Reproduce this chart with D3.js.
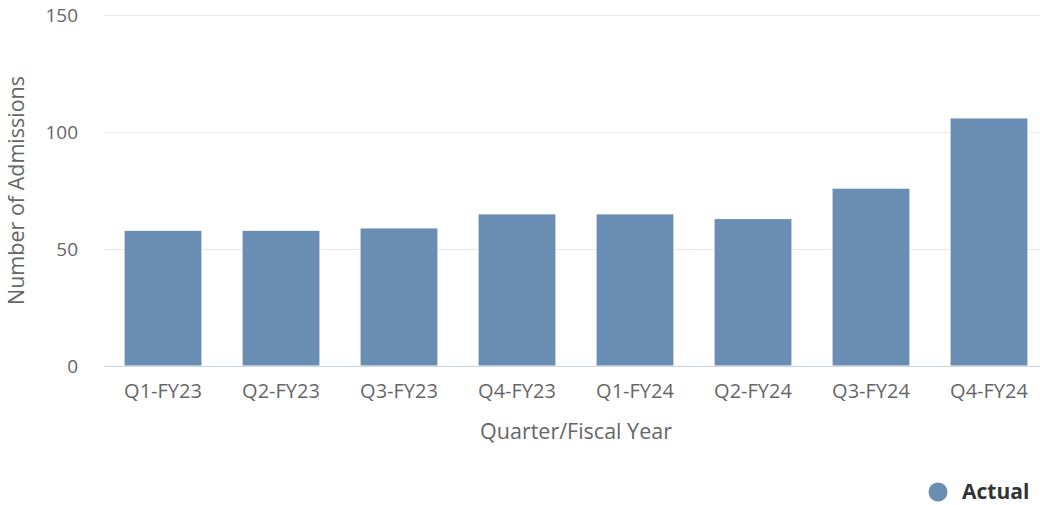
<!DOCTYPE html>
<html>
<head>
<meta charset="utf-8">
<script src="https://cdn.jsdelivr.net/npm/d3@7"></script>
<style>
  html, body { margin: 0; padding: 0; background: #fff; }
  svg { display: block; font-family: "Open Sans", "Noto Sans", sans-serif; }
</style>
</head>
<body>
<svg id="chart" width="1040" height="505"></svg>
<script>
// Quarterly admissions
const quarters = ["Q1-FY23", "Q2-FY23", "Q3-FY23", "Q4-FY23", "Q1-FY24", "Q2-FY24", "Q3-FY24", "Q4-FY24"];
const actual = [58, 58, 59, 65, 65, 63, 76, 106];
const yTicks = [0, 50, 100, 150];
const seriesName = "Actual";

const svg = d3.select("#chart");
const barColor = "#6a8db3";

const x = d3.scaleBand()
  .domain(quarters)
  .range([104, 1048])
  .paddingInner(0.34)
  .paddingOuter(0.17);

const y = d3.scaleLinear()
  .domain([0, 150])
  .range([366, 15]);

// horizontal grid lines
svg.append("g")
  .selectAll("line")
  .data(yTicks.filter(d => d !== 0))
  .join("line")
  .attr("x1", 104).attr("x2", 1040)
  .attr("y1", d => Math.round(y(d)) + 0.5)
  .attr("y2", d => Math.round(y(d)) + 0.5)
  .attr("stroke", "#e6e6e6")
  .attr("stroke-width", 1);

// bars
svg.append("g")
  .selectAll("rect")
  .data(actual)
  .join("rect")
  .attr("x", (d, i) => x(quarters[i]))
  .attr("y", d => y(d))
  .attr("width", x.bandwidth())
  .attr("height", d => y(0) - y(d))
  .attr("fill", barColor)
  .attr("stroke", "#ffffff")
  .attr("stroke-width", 1);

// x axis
const xAxis = svg.append("g")
  .attr("transform", `translate(0, ${y(0)})`)
  .call(d3.axisBottom(x).tickSize(0).tickPadding(18));
xAxis.select(".domain").attr("stroke", "#ccd6eb").attr("d", "M104,0.5H1040");
xAxis.selectAll("text")
  .attr("fill", "#666666")
  .style("font-size", "20px")
  .style("font-family", "'Open Sans', sans-serif");

// y axis
const yAxis = svg.append("g")
  .attr("transform", "translate(78, 0)")
  .call(d3.axisLeft(y).tickValues(yTicks).tickSize(0).tickPadding(0));
yAxis.select(".domain").remove();
yAxis.selectAll("text")
  .attr("fill", "#666666")
  .attr("dy", "0.34em")
  .style("font-size", "19px")
  .style("font-family", "'Open Sans', sans-serif");

// axis titles
svg.append("text")
  .attr("x", 576)
  .attr("y", 439)
  .attr("text-anchor", "middle")
  .attr("fill", "#666666")
  .style("font-size", "21.5px")
  .text("Quarter/Fiscal Year");

svg.append("text")
  .attr("transform", `translate(24, ${(y(0) + y(150)) / 2}) rotate(-90)`)
  .attr("text-anchor", "middle")
  .attr("fill", "#666666")
  .style("font-size", "21.5px")
  .text("Number of Admissions");

// legend
const legend = svg.append("g").attr("transform", "translate(938, 492)");
legend.append("circle")
  .attr("r", 9.5)
  .attr("fill", barColor);
legend.append("text")
  .attr("x", 24)
  .attr("dy", "0.35em")
  .attr("fill", "#333333")
  .style("font-size", "21px")
  .style("font-weight", "bold")
  .text(seriesName);
</script>
</body>
</html>
